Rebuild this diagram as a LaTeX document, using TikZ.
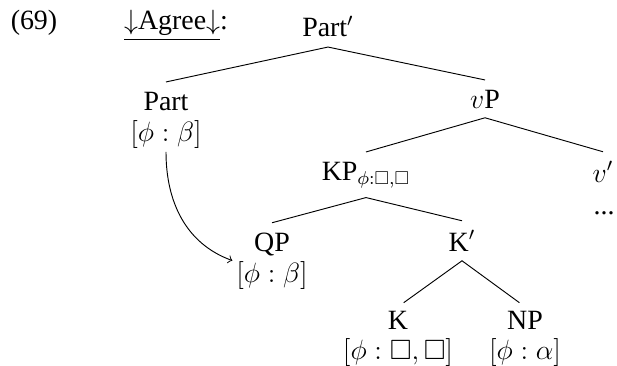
\documentclass[tikz,border=0pt,12pt]{standalone}
\usepackage{amsmath}
\usepackage{amssymb}
\usepackage{fontspec}
\setmainfont{Liberation Serif}

\begin{document}
\begin{tikzpicture}[x=0.43pt, y=-0.43pt,
	lab/.style={anchor=base, inner sep=4pt},
	leaf/.style={anchor=base, inner sep=1.5pt},
	feat/.style={anchor=base, inner sep=1.5pt}]
	\useasboundingbox (0,0) rectangle (617,365);
	\node[lab] (ex) at (34,30) {(69)};
	\node[lab] (agree) at (176,30) {\underline{$\downarrow$Agree$\downarrow$}:};
	% tree
	\node[lab] (partp) at (328,37) {Part$'$};
	\node[lab] (part) at (166,110) {Part};
	\node[feat] (partf) at (166,141) {$[\phi:\beta]$};
	\node[lab] (vp) at (485,108) {$v$P};
	\node[lab] (kp) at (366,180) {KP$_{\phi:\square,\square}$};
	\node[lab] (vbar) at (603,182) {$v'$};
	\node[feat] (dots) at (604,214) {...};
	\node[lab] (qp) at (272,251) {QP};
	\node[feat] (qpf) at (272,282) {$[\phi:\beta]$};
	\node[lab] (kbar) at (462,251) {K$'$};
	\node[leaf] (k) at (398,329) {K};
	\node[feat] (kf) at (398,359) {$[\phi:\square,\square]$};
	\node[leaf] (np) at (525,329) {NP};
	\node[feat] (npf) at (525,359) {$[\phi:\alpha]$};
	\draw (part.north) -- (partp.south) -- (vp.north);
	\draw (kp.north) -- (vp.south) -- (vbar.north);
	\draw (qp.north) -- (kp.south) -- (kbar.north);
	\draw[shorten <=3pt, shorten >=3pt] (k.north) -- (kbar.south) -- (np.north);
	% agree arrow
	\draw[->] (partf.south) to[out=-90, in=160] (qpf.160);
\end{tikzpicture}
\end{document}
